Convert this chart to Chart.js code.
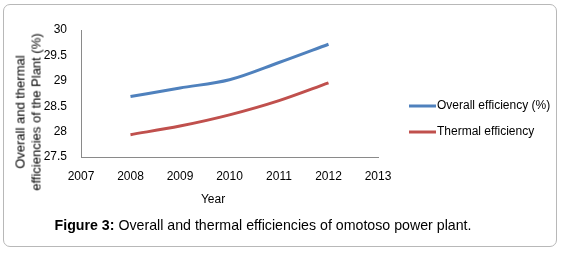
<!DOCTYPE html>
<html>
<head>
<meta charset="utf-8">
<script src="https://cdn.jsdelivr.net/npm/chart.js@4"></script>
<style>
  html, body { margin: 0; padding: 0; background: #fff; }
  body { width: 561px; height: 255px; position: relative; overflow: hidden; }
  #frame { position: absolute; left: 3px; top: 4px; width: 552px; height: 241px;
           border: 1px solid #b8b8b8; border-radius: 7px; }
  #wrap { position: absolute; left: 0; top: 0; width: 561px; height: 255px; }
  .ytitle { position: absolute; left: 28px; top: 112px; white-space: nowrap; text-align: center;
            font: 13px "Liberation Sans", Arial, sans-serif; line-height: 15.5px; color: #000;
            transform: translate(-50%, -50%) rotate(-90deg); }
  .xtitle { position: absolute; left: 213px; top: 199px; transform: translate(-50%, -50%);
            font: 12px "Liberation Sans", Arial, sans-serif; color: #000; }
  .caption { position: absolute; left: 263px; top: 225px; white-space: nowrap;
             transform: translate(-50%, -50%);
             font: 14.2px "Liberation Sans", Arial, sans-serif; color: #000; }
</style>
</head>
<body>
<div id="frame"></div>
<div id="wrap"><canvas id="myChart" width="561" height="255"></canvas></div>
<div class="ytitle">Overall and thermal<br>efficiencies of the Plant (%)</div>
<div class="xtitle">Year</div>
<div class="caption"><b>Figure 3:</b> Overall and thermal efficiencies of omotoso power plant.</div>
<script>
// values
var years = [2008, 2009, 2010, 2011, 2012];
var overallEff = [28.69, 28.86, 29.02, 29.36, 29.72];
var thermalEff = [27.94, 28.11, 28.33, 28.61, 28.96];
var seriesNames = ['Overall efficiency (%)', 'Thermal efficiency'];
var yearTicks = [2007, 2013];
var effTicks = [27.5, 30, 0.5];

var tickFont = { family: '"Liberation Sans", Arial, sans-serif', size: 12 };

function toPoints(vals) {
    return years.map(function(y, i) { return { x: y, y: vals[i] }; });
}

// legend drawn at the right of the plot, like the excel original
var sideLegend = {
    id: 'sideLegend',
    afterDraw: function(chart) {
        var ctx = chart.ctx;
        ctx.save();
        chart.data.datasets.forEach(function(ds, i) {
            var y = 106 + i * 26;
            ctx.strokeStyle = ds.borderColor;
            ctx.lineWidth = 3;
            ctx.beginPath();
            ctx.moveTo(409, y);
            ctx.lineTo(436, y);
            ctx.stroke();
            ctx.fillStyle = '#000';
            ctx.font = '12px "Liberation Sans", Arial, sans-serif';
            ctx.textBaseline = 'middle';
            ctx.fillText(ds.label, 437, y);
        });
        ctx.restore();
    }
};

var ctx = document.getElementById('myChart').getContext('2d');
var myChart = new Chart(ctx, {
    type: 'line',
    data: {
        datasets: [{
            label: seriesNames[0],
            data: toPoints(overallEff),
            borderColor: '#4F81BD',
            borderWidth: 3,
            pointRadius: 0,
            tension: 0.4,
            cubicInterpolationMode: 'monotone',
            fill: false
        }, {
            label: seriesNames[1],
            data: toPoints(thermalEff),
            borderColor: '#C0504D',
            borderWidth: 3,
            pointRadius: 0,
            tension: 0.4,
            cubicInterpolationMode: 'monotone',
            fill: false
        }]
    },
    options: {
        responsive: false,
        animation: false,
        layout: { padding: { left: 0, top: 30, right: 183, bottom: 0 } },
        plugins: { legend: { display: false }, tooltip: { enabled: false } },
        scales: {
            x: {
                type: 'linear',
                min: yearTicks[0],
                max: yearTicks[1],
                ticks: {
                    stepSize: 1,
                    padding: 12,
                    color: '#000',
                    font: tickFont,
                    callback: function(v) { return String(v); }
                },
                grid: { display: false, drawTicks: false },
                border: { display: true, color: '#8a8a8a', width: 1 },
                afterFit: function(s) { s.height = 98; }
            },
            y: {
                min: effTicks[0],
                max: effTicks[1],
                ticks: {
                    stepSize: effTicks[2],
                    padding: 14,
                    color: '#000',
                    font: tickFont,
                    callback: function(v) { return String(Number(v.toFixed(1))); }
                },
                grid: { display: false, drawTicks: false },
                border: { display: true, color: '#8a8a8a', width: 1 },
                afterFit: function(s) { s.width = 81; }
            }
        }
    },
    plugins: [sideLegend]
});
</script>
</body>
</html>
